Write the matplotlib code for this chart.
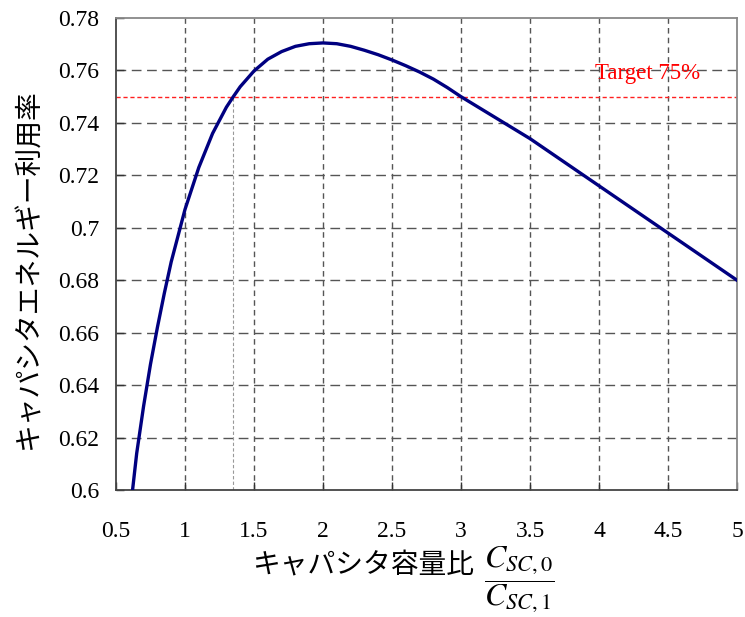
import matplotlib
matplotlib.use('Agg')
import matplotlib.pyplot as plt

plt.rcParams['font.family'] = ['Liberation Serif', 'Noto Sans CJK JP']
plt.rcParams['mathtext.fontset'] = 'stix'

# capacitance ratio vs capacitor energy utilisation
ratio = [0.62, 0.65, 0.70, 0.75, 0.80, 0.85, 0.90, 1.00, 1.10, 1.20, 1.30, 1.35,
         1.40, 1.50, 1.60, 1.70, 1.80, 1.90, 2.00, 2.10, 2.20, 2.30, 2.40, 2.50,
         2.60, 2.70, 2.80, 2.90, 3.00, 3.25, 3.50, 3.75, 4.00, 4.25, 4.50, 4.75, 5.00]
usage = [0.600, 0.614, 0.632, 0.648, 0.662, 0.675, 0.687, 0.707, 0.723, 0.736, 0.746, 0.750,
         0.7538, 0.7598, 0.7643, 0.7672, 0.7692, 0.7702, 0.7705, 0.7702, 0.7692, 0.7677, 0.7660, 0.7640,
         0.7618, 0.7594, 0.7567, 0.7535, 0.7500, 0.742, 0.734, 0.725, 0.716, 0.707, 0.698, 0.689, 0.680]
target = 0.75
target_ratio = 1.35
x_ticks = [0.5, 1, 1.5, 2, 2.5, 3, 3.5, 4, 4.5, 5]
y_ticks = [0.6, 0.62, 0.64, 0.66, 0.68, 0.7, 0.72, 0.74, 0.76, 0.78]

fig = plt.figure(figsize=(7.45, 6.17), dpi=100)
ax = fig.add_axes([0.1557, 0.2058, 0.8336, 0.765])

for x in x_ticks[1:-1]:
    ax.axvline(x, color='#555555', lw=1.0, dashes=(4, 3), zorder=1)
for y in y_ticks[1:-1]:
    ax.axhline(y, color='#555555', lw=1.0, dashes=(7, 4), zorder=1)

ax.plot([target_ratio, target_ratio], [0.6, target], color='#999999', lw=0.8, dashes=(3, 2), zorder=2)
ax.axhline(target, color='#ff2020', lw=1.0, dashes=(3, 2), zorder=2)
ax.text(4.355, 0.7587, 'Target 75%', color='red', fontsize=16.5, ha='center', va='center')

ax.plot(ratio, usage, color='#000080', lw=2.4, zorder=3)

ax.set_xlim(0.5, 5)
ax.set_ylim(0.6, 0.78)
ax.set_xticks(x_ticks)
ax.set_xticklabels(['0.5', '1', '1.5', '2', '2.5', '3', '3.5', '4', '4.5', '5'])
ax.set_yticks(y_ticks)
ax.set_yticklabels(['0.6', '0.62', '0.64', '0.66', '0.68', '0.7', '0.72', '0.74', '0.76', '0.78'])
ax.tick_params(direction='in', length=6, width=1, labelsize=17, colors='#333333')
ax.tick_params(axis='x', pad=22)
ax.tick_params(axis='y', pad=12)
ax.tick_params(labelcolor='black')

for side in ['left', 'bottom']:
    ax.spines[side].set_color('#444444')
    ax.spines[side].set_linewidth(1.3)
for side in ['top', 'right']:
    ax.spines[side].set_color('#888888')
    ax.spines[side].set_linewidth(1.3)

ax.set_ylabel('キャパシタエネルギー利用率', fontsize=20)
ax.yaxis.set_label_coords(-0.119, 0.466)

# x label: japanese text plus the capacitance fraction
fig.text(0.487, 0.084, 'キャパシタ容量比', fontsize=20, ha='center', va='center')
fig.text(0.697, 0.060, r'$\dfrac{C_{SC,0}}{C_{SC,1}}$', fontsize=23, ha='center', va='center')

fig.savefig('out.png', dpi=100)
